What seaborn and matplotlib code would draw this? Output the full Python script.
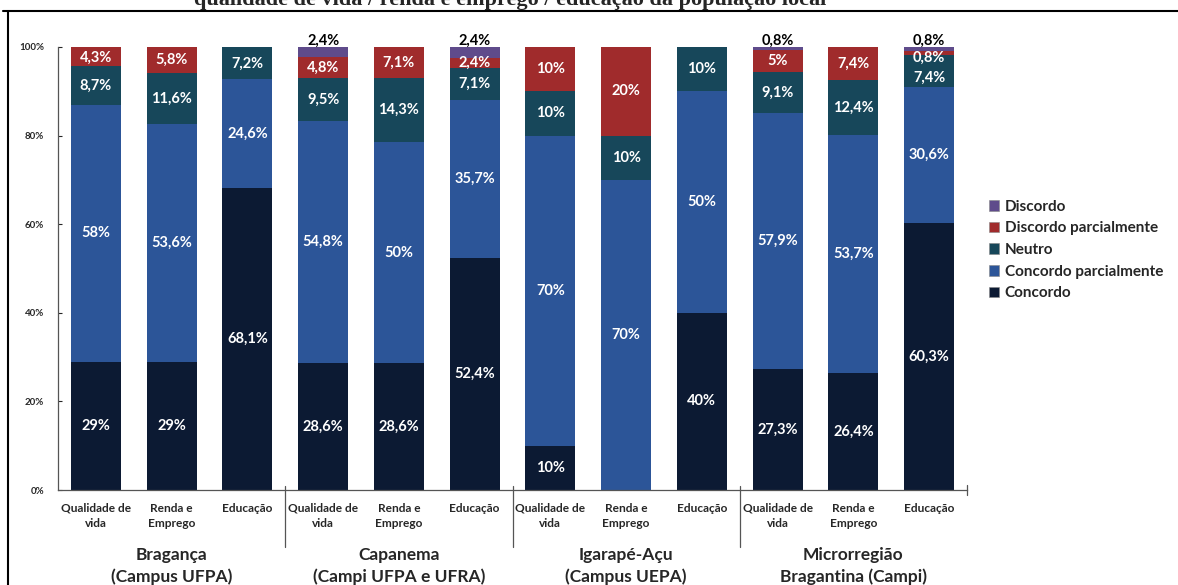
import numpy as np
import pandas as pd
import seaborn as sns
import matplotlib
matplotlib.use("Agg")
import matplotlib.pyplot as plt
from matplotlib.patches import Patch
from matplotlib.lines import Line2D

sns.set_style("white")
plt.rcParams['font.family'] = ['Lato', 'DejaVu Sans']
plt.rcParams['font.weight'] = 'bold'

# data (percent)
groups = ["Bragança\n(Campus UFPA)", "Capanema\n(Campi UFPA e UFRA)",
          "Igarapé-Açu\n(Campus UEPA)", "Microrregião\nBragantina (Campi)"]
categories = ["Qualidade de\nvida", "Renda e\nEmprego", "Educação"]
series = ["Concordo", "Concordo parcialmente", "Neutro", "Discordo parcialmente", "Discordo"]

concordo = [29, 29, 68.1, 28.6, 28.6, 52.4, 10, 0, 40, 27.3, 26.4, 60.3]
concordo_parc = [58, 53.6, 24.6, 54.8, 50, 35.7, 70, 70, 50, 57.9, 53.7, 30.6]
neutro = [8.7, 11.6, 7.2, 9.5, 14.3, 7.1, 10, 10, 10, 9.1, 12.4, 7.4]
discordo_parc = [4.3, 5.8, 0, 4.8, 7.1, 2.4, 10, 20, 0, 5, 7.4, 0.8]
discordo = [0, 0, 0, 2.4, 0, 2.4, 0, 0, 0, 0.8, 0, 0.8]

colors = ["#0C1A33", "#2C5598", "#17475A", "#A02B2C", "#5F4B8B"]

values = np.array([concordo, concordo_parc, neutro, discordo_parc, discordo])
n_bars = values.shape[1]
bar_ids = [str(i) for i in range(n_bars)]
cum = np.cumsum(values, axis=0)

fig = plt.figure(figsize=(11.78, 5.85), dpi=100)
ax = fig.add_axes([58 / 1178, 1 - 490 / 585, (967 - 58) / 1178, 443 / 585])

# draw from the top of the stack down so each layer covers the one above
for k in range(len(series) - 1, -1, -1):
    df = pd.DataFrame({"bar": bar_ids, "cum": cum[k]})
    sns.barplot(data=df, x="bar", y="cum", order=bar_ids, color=colors[k],
                saturation=1, width=0.66, linewidth=0, ax=ax)

# value labels
for i in range(n_bars):
    prev = 100 - 2.4 + 4.6
    for k in range(len(series) - 1, -1, -1):
        v = values[k, i]
        if v <= 0:
            continue
        txt = ("%g" % v).replace(".", ",") + "%"
        center = cum[k, i] - v / 2
        if k == 4 and v < 3:
            ax.text(i, 101.4, txt, ha="center", va="center", color="black",
                    fontsize=10.5, fontweight="bold", clip_on=False)
            continue
        y = min(center, prev - 4.6)
        prev = y
        ax.text(i, y, txt, ha="center", va="center", color="white",
                fontsize=10.5, fontweight="bold")

ax.set_xlim(-0.5, n_bars - 0.5)
ax.set_ylim(0, 100)
ax.set_xlabel("")
ax.set_ylabel("")
ax.set_xticks(range(n_bars))
ax.set_xticklabels(categories * len(groups))
ax.set_yticks(range(0, 101, 20))
ax.set_yticklabels(["%d%%" % t for t in range(0, 101, 20)])
for lbl in ax.get_xticklabels():
    lbl.set_fontsize(8.6)
    lbl.set_fontweight("bold")
    lbl.set_linespacing(1.5)
for lbl in ax.get_yticklabels():
    lbl.set_fontsize(7)
    lbl.set_fontweight("bold")
ax.tick_params(axis="x", length=0, pad=9)
ax.tick_params(axis="y", direction="in", length=3, width=0.8, pad=10, left=True)
for s in ["top", "right"]:
    ax.spines[s].set_visible(False)
ax.spines["left"].set_color("#555555")
ax.spines["bottom"].set_color("#555555")
ax.spines["left"].set_linewidth(0.9)
ax.spines["bottom"].set_linewidth(0.9)

# end tick on x axis and group separators
ax.plot([n_bars - 0.5, n_bars - 0.5], [-1.2, 1.2], color="#555555", lw=0.9, clip_on=False)
for g in range(1, len(groups)):
    xs = 3 * g - 0.5
    ax.plot([xs, xs], [1.0, -12.8], color="#555555", lw=0.9, clip_on=False)

for g, name in enumerate(groups):
    ax.text(3 * g + 1, -12.9, name, ha="center", va="top", fontsize=12.5,
            fontweight="bold", linespacing=1.38, transform=ax.transData, clip_on=False)

# legend
handles = [Patch(facecolor=colors[k], edgecolor="#888888", linewidth=0.4)
           for k in range(len(series) - 1, -1, -1)]
fig.legend(handles, series[::-1], loc="center left", bbox_to_anchor=(975 / 1178, 1 - 250 / 585),
           frameon=False, handlelength=0.7, handleheight=0.7,
           handletextpad=0.35, labelspacing=0.5, prop={"weight": "bold", "size": 11})

# title cut by the image top, and the frame
fig.text(510 / 1178, 1 - 5 / 585,
         "qualidade de vida / renda e emprego / educação da população local",
         ha="center", va="baseline", fontsize=16, fontweight="bold",
         family=["Liberation Serif", "DejaVu Serif"])
fig.add_artist(Line2D([3 / 1178, 1], [1 - 11 / 585, 1 - 11 / 585], color="black", lw=1.5))
fig.add_artist(Line2D([8 / 1178, 8 / 1178], [0, 1 - 11 / 585], color="black", lw=1.5))

fig.savefig("out.png", dpi=100)
